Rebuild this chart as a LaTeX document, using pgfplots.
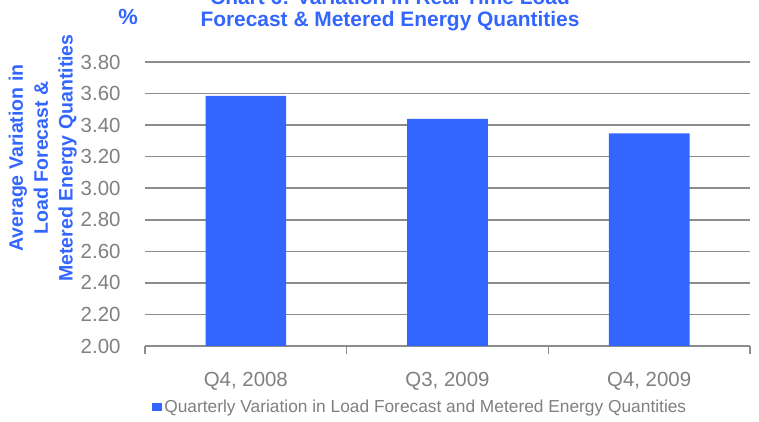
\documentclass[border=0pt]{standalone}
\usepackage{pgfplots}
\pgfplotsset{compat=1.18}
\usepackage{fontspec}
\setmainfont{Liberation Sans}
\definecolor{barblue}{HTML}{3366FF}
\definecolor{txtgray}{HTML}{808080}
\definecolor{gridgray}{HTML}{8C8C8C}
\begin{document}
\begin{tikzpicture}
\begin{axis}[
  at={(145bp,76bp)}, anchor=south west,
  scale only axis, width=605bp, height=284bp,
  clip mode=individual,
  xmin=-0.5, xmax=2.5, ymin=2, ymax=3.8,
  axis x line*=bottom, axis y line*=left,
  y axis line style={draw=none},
  x axis line style={gridgray, line width=1.5bp},
  ytick={2,2.2,2.4,2.6,2.8,3,3.2,3.4,3.6,3.8},
  ymajorgrids, grid style={gridgray, line width=1.5bp},
  major tick length=0pt,
  tick style={gridgray, line width=1.5bp},
  xtick={0,1,2}, xticklabels={{Q4, 2008},{Q3, 2009},{Q4, 2009}},
  extra x ticks={-0.5,0.5,1.5,2.5}, extra x tick labels={},
  extra x tick style={major tick length=8bp, tick align=outside, grid=none},
  /pgf/number format/assume math mode=true,
  tick label style={font=\fontsize{20.5}{23}\selectfont, text=txtgray},
  yticklabel style={xshift=-21bp, /pgf/number format/.cd, fixed, fixed zerofill, precision=2},
  xticklabel style={yshift=-23bp},
  ylabel={Average Variation in\\Load Forecast \&\\Metered Energy Quantities},
  ylabel style={at={(axis description cs:-0.169,0.662)}, anchor=center, align=center, font=\fontsize{19.6}{25}\selectfont\bfseries, text=barblue},
  title={Chart 6: Variation in Real Time Load\\Forecast \& Metered Energy Quantities},
  title style={at={(axis description cs:0.405,1.163)}, anchor=center, align=center, font=\fontsize{21}{22}\selectfont\bfseries, text=barblue},
  legend style={at={(axis description cs:0.455,-0.215)}, anchor=center, draw=none, font=\fontsize{17.4}{19}\selectfont, text=txtgray, inner sep=0pt},
  legend image code/.code={\fill[barblue] (0bp,-4bp) rectangle (10bp,4bp);},
]
\addplot[ybar, bar width=0.4, fill=barblue, draw=none] coordinates {(0,3.585) (1,3.44) (2,3.347)};
\addlegendentry{Quarterly Variation in Load Forecast and Metered Energy Quantities}
\node[text=barblue, font=\fontsize{22}{24}\selectfont\bfseries] at (axis description cs:-0.028,1.158) {\%};
\end{axis}
\pgfresetboundingbox
\path[use as bounding box] (0,0) rectangle (759bp,422bp);
\end{tikzpicture}
\end{document}
